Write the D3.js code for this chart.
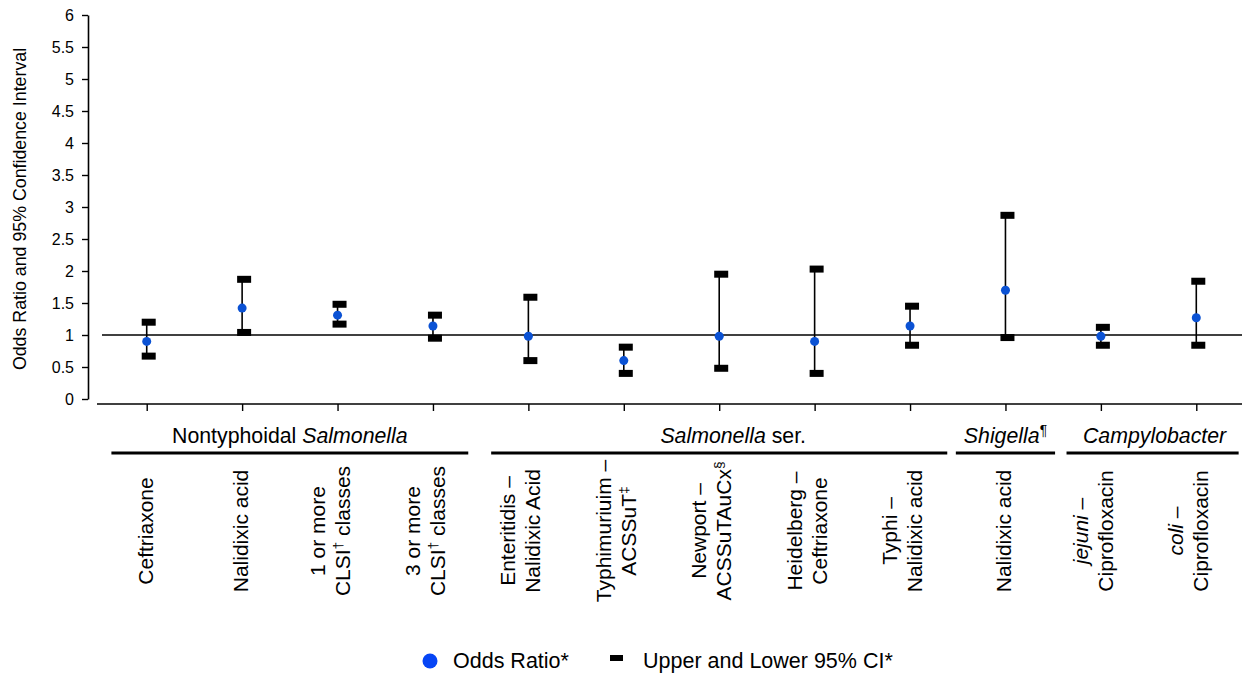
<!DOCTYPE html>
<html>
<head>
<meta charset="utf-8">
<script src="https://cdn.jsdelivr.net/npm/d3@7"></script>
<style>
  html, body { margin: 0; padding: 0; background: #fff; }
  svg { display: block; font-family: "Liberation Sans", Arial, Helvetica, sans-serif; }
</style>
</head>
<body>
<svg id="chart" width="1242" height="673"></svg>
<script>
// ---- data ----
const categories = [
  "Ceftriaxone", "Nalidixic acid", "1 or more CLSI classes", "3 or more CLSI classes",
  "Enteritidis – Nalidixic Acid", "Typhimuriuim – ACSSuT", "Newport – ACSSuTAuCx",
  "Heidelberg – Ceftriaxone", "Typhi – Nalidixic acid", "Nalidixic acid",
  "jejuni – Ciprofloxacin", "coli – Ciprofloxacin"
];
const oddsRatio = [0.90, 1.42, 1.31, 1.14, 0.98, 0.60, 0.98, 0.90, 1.14, 1.70, 0.98, 1.27];
const upperCI   = [1.20, 1.87, 1.48, 1.31, 1.59, 0.81, 1.95, 2.03, 1.45, 2.87, 1.12, 1.84];
const lowerCI   = [0.67, 1.04, 1.17, 0.95, 0.60, 0.40, 0.48, 0.40, 0.84, 0.96, 0.84, 0.84];
const yTicks = [0, 0.5, 1, 1.5, 2, 2.5, 3, 3.5, 4, 4.5, 5, 5.5, 6];
const referenceValue = 1;

// category labels: lines of segments [text, style] (style: "n" normal, "i" italic, "s" superscript)
const categoryLabels = [
  [[["Ceftriaxone", "n"]]],
  [[["Nalidixic acid", "n"]]],
  [[["1 or more", "n"]], [["CLSI", "n"], ["†", "s"], [" classes", "n"]]],
  [[["3 or more", "n"]], [["CLSI", "n"], ["†", "s"], [" classes", "n"]]],
  [[["Enteritidis –", "n"]], [["Nalidixic Acid", "n"]]],
  [[["Typhimuriuim –", "n"]], [["ACSSuT", "n"], ["‡", "s"]]],
  [[["Newport –", "n"]], [["ACSSuTAuCx", "n"], ["§", "s"]]],
  [[["Heidelberg –", "n"]], [["Ceftriaxone", "n"]]],
  [[["Typhi –", "n"]], [["Nalidixic acid", "n"]]],
  [[["Nalidixic acid", "n"]]],
  [[["jejuni", "i"], [" –", "n"]], [["Ciprofloxacin", "n"]]],
  [[["coli", "i"], [" –", "n"]], [["Ciprofloxacin", "n"]]]
];
const groupNames = [
  [["Nontyphoidal ", "n"], ["Salmonella", "i"]],
  [["Salmonella", "i"], [" ser.", "n"]],
  [["Shigella", "i"], ["¶", "s"]],
  [["Campylobacter", "i"]]
];
const groupStart = [0, 4, 9, 10];
const groupEnd   = [3, 8, 9, 11];
const legendLabels = ["Odds Ratio*", "Upper and Lower 95% CI*"];
const yTitle = "Odds Ratio and 95% Confidence Interval";

// ---- drawing ----
const svg = d3.select("#chart");
const pointColor = "#0b52d4";
const legendDotColor = "#0645f5";

const x = d3.scalePoint().domain(d3.range(categories.length)).range([99, 1244]).padding(0.5);
const y = d3.scaleLinear().domain([0, 6]).range([399, 15]);
const step = x.step();

// y axis
const yAxis = svg.append("g").attr("transform", "translate(88,0)")
  .call(d3.axisLeft(y).tickValues(yTicks).tickFormat(d => String(d)).tickSize(6).tickSizeOuter(0).tickPadding(8));
yAxis.select(".domain").attr("stroke", "#000").attr("stroke-width", 1.6);
yAxis.selectAll(".tick line").attr("stroke", "#000").attr("stroke-width", 1.4);
yAxis.selectAll(".tick text").attr("font-size", 16).attr("fill", "#000")
  .attr("font-family", "Liberation Sans, Arial, sans-serif");

svg.append("text")
  .attr("transform", `translate(26,${(y(0) + y(6)) / 2 + 2}) rotate(-90)`)
  .attr("text-anchor", "middle")
  .attr("font-size", 17.8)
  .text(yTitle);

// x axis
const xAxis = svg.append("g").attr("transform", "translate(0,404)")
  .call(d3.axisBottom(x).tickFormat("").tickSize(7).tickSizeOuter(0));
xAxis.select(".domain").attr("stroke", "#000").attr("stroke-width", 1.6)
  .attr("d", "M97,0H1242");
xAxis.selectAll(".tick line").attr("stroke", "#000").attr("stroke-width", 1.4);

// reference line at 1
svg.append("line")
  .attr("x1", 102).attr("x2", 1242)
  .attr("y1", y(referenceValue)).attr("y2", y(referenceValue))
  .attr("stroke", "#000").attr("stroke-width", 1.6);

// error bars
const idx = d3.range(categories.length);
svg.append("g").selectAll("line").data(idx).join("line")
  .attr("x1", i => x(i)).attr("x2", i => x(i))
  .attr("y1", i => y(upperCI[i])).attr("y2", i => y(lowerCI[i]))
  .attr("stroke", "#000").attr("stroke-width", 1.6);

const capW = 14, capH = 7;
const caps = svg.append("g");
caps.selectAll("rect.up").data(idx).join("rect").attr("class", "up")
  .attr("x", i => x(i) - capW / 2 + 2).attr("y", i => y(upperCI[i]) - capH / 2)
  .attr("width", capW).attr("height", capH).attr("fill", "#000");
caps.selectAll("rect.lo").data(idx).join("rect").attr("class", "lo")
  .attr("x", i => x(i) - capW / 2 + 2).attr("y", i => y(lowerCI[i]) - capH / 2)
  .attr("width", capW).attr("height", capH).attr("fill", "#000");

// points
svg.append("g").selectAll("circle").data(idx).join("circle")
  .attr("cx", i => x(i)).attr("cy", i => y(oddsRatio[i]))
  .attr("r", 4.5).attr("fill", pointColor);

// helper to write segments
function writeSegments(textSel, segs, fontSize) {
  let shifted = false;
  segs.forEach(([t, s]) => {
    const ts = textSel.append("tspan").text(t);
    if (s === "i") ts.attr("font-style", "italic");
    if (s === "s") {
      ts.attr("font-size", fontSize * 0.65).attr("dy", -fontSize * 0.38);
      shifted = true;
    } else if (shifted) {
      ts.attr("dy", fontSize * 0.38);
      shifted = false;
    }
  });
}

// category labels (rotated)
const labFS = 21;
const labCenterY = 531;
const lineGap = 25;
categoryLabels.forEach((lines, i) => {
  const n = lines.length;
  lines.forEach((segs, j) => {
    const bx = n === 1 ? x(i) + 6 : x(i) + 12 - (n - 1 - j) * lineGap;
    const t = svg.append("text")
      .attr("transform", `translate(${bx},${labCenterY}) rotate(-90)`)
      .attr("text-anchor", "middle")
      .attr("font-size", labFS);
    writeSegments(t, segs, labFS);
  });
});

// groups
const grpFS = 21.3;
const groupPad = [0.37, 0.39, 0.52, 0.36];
const groupRightExtra = [0, 0, 0, 8];
groupNames.forEach((segs, g) => {
  const x0 = x(groupStart[g]) - step * groupPad[g];
  const x1 = x(groupEnd[g]) + step * groupPad[g] + groupRightExtra[g];
  svg.append("line").attr("x1", x0).attr("x2", x1).attr("y1", 453).attr("y2", 453)
    .attr("stroke", "#000").attr("stroke-width", 3.2);
  const cx = g === 1 ? (x0 + x1) / 2 + 14 : (g === 3 ? (x(groupStart[g]) + x(groupEnd[g])) / 2 + 6 : (x0 + x1) / 2);
  const t = svg.append("text").attr("x", cx).attr("y", 443)
    .attr("text-anchor", "middle").attr("font-size", grpFS);
  writeSegments(t, segs, grpFS);
});

// legend
const lg = svg.append("g");
lg.append("circle").attr("cx", 430).attr("cy", 661).attr("r", 7.5).attr("fill", legendDotColor);
lg.append("text").attr("x", 453).attr("y", 668).attr("font-size", 21.5).text(legendLabels[0]);
lg.append("rect").attr("x", 610).attr("y", 655).attr("width", 13).attr("height", 6).attr("fill", "#000");
lg.append("text").attr("x", 643).attr("y", 668).attr("font-size", 21.5).text(legendLabels[1]);
</script>
</body>
</html>
